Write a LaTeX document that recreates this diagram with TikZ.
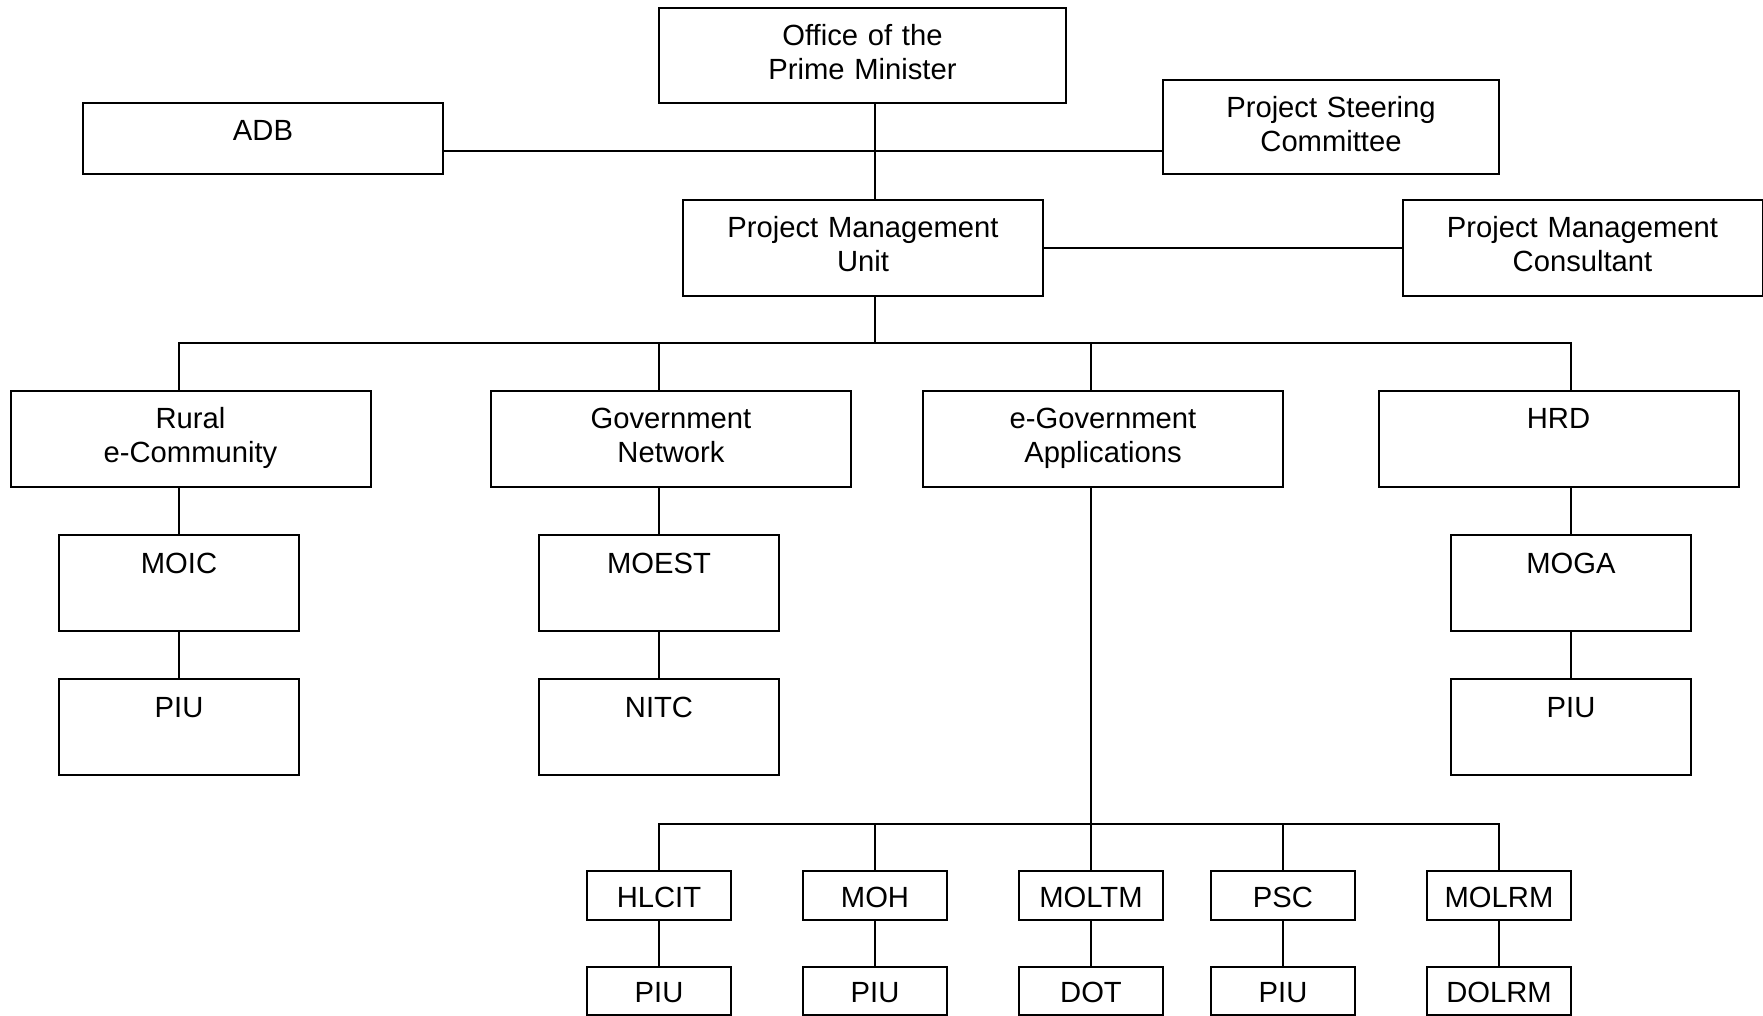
\documentclass[tikz,border=0pt]{standalone}
\usepackage{fontspec}
\setmainfont{Liberation Sans}
\usetikzlibrary{positioning,calc}

\begin{document}
\begin{tikzpicture}[x=0.5pt,y=-0.5pt,font=\fontsize{14.6pt}{16.9pt}\selectfont,
box/.style={draw,line width=1pt,text width=#1,align=center,inner sep=0pt,text height=19pt,text depth=29pt},box/.default=180pt,
unit/.style={box=120pt},small/.style={box=72pt,text height=17.9pt,text depth=6.3pt},link/.style={line width=0.8pt}]
\useasboundingbox (0,0) rectangle (1763,1016);
\node[box=203.5pt,text depth=28.5pt] (office) at (862.5,55.5) {Office of the\\Prime Minister};
\node[box,text depth=16.5pt] (adb) at (263,138.5) {ADB};
\node[box=168pt,text depth=28pt] (steering) at (1331,127) {Project Steering\\Committee};
\node[box] (pmu) at (863,248) {Project Management\\Unit};
\node[box] (pmc) at (1582.5,248) {Project Management\\Consultant};
\node[box] (rural) at (190.5,439) {Rural\\e-Community};
\node[box] (govnet) at (671,439) {Government\\Network};
\node[box] (egov) at (1103,439) {e-Government\\Applications};
\node[box] (hrd) at (1558.5,439) {HRD};
\node[unit] (moic) at (179,583) {MOIC};
\node[unit] (moest) at (659,583) {MOEST};
\node[unit] (moga) at (1571,583) {MOGA};
\node[unit] (ruralpiu) at (179,727) {PIU};
\node[unit] (nitc) at (659,727) {NITC};
\node[unit] (hrdpiu) at (1571,727) {PIU};
\node[small] (hlcit) at (659,895.6) {HLCIT};
\node[small] (moh) at (875,895.6) {MOH};
\node[small] (moltm) at (1091,895.6) {MOLTM};
\node[small] (pscapp) at (1283,895.6) {PSC};
\node[small] (molrm) at (1499,895.6) {MOLRM};
\node[small] (hlcitpiu) at (659,991) {PIU};
\node[small] (mohpiu) at (875,991) {PIU};
\node[small] (dot) at (1091,991) {DOT};
\node[small] (pscpiu) at (1283,991) {PIU};
\node[small] (dolrm) at (1499,991) {DOLRM};
\coordinate (spine) at (875,151);
\coordinate (topbus) at (875,343);
\coordinate (lowbus) at (1091,824);
\draw[link] (office.south -| spine) -- (pmu.north -| spine);
\draw[link] (adb.east |- spine) -- (steering.west |- spine);
\draw[link] (pmu) -- (pmc);
\draw[link] (pmu.south -| spine) -- (topbus);
\draw[link] (rural.north -| moic) -- (moic |- topbus) -- (moga |- topbus) -- (hrd.north -| moga);
\draw[link] (moest |- topbus) -- (govnet.north -| moest);
\draw[link] (moltm |- topbus) -- (egov.north -| moltm);
\draw[link] (rural.south -| moic) -- (moic);
\draw[link] (govnet.south -| moest) -- (moest);
\draw[link] (hrd.south -| moga) -- (moga);
\draw[link] (moic) -- (ruralpiu);
\draw[link] (moest) -- (nitc);
\draw[link] (moga) -- (hrdpiu);
\draw[link] (egov.south -| moltm) -- (moltm);
\draw[link] (hlcit) -- (hlcit |- lowbus) -- (molrm |- lowbus) -- (molrm);
\draw[link] (moh |- lowbus) -- (moh);
\draw[link] (pscapp |- lowbus) -- (pscapp);
\draw[link] (hlcit) -- (hlcitpiu);
\draw[link] (moh) -- (mohpiu);
\draw[link] (moltm) -- (dot);
\draw[link] (pscapp) -- (pscpiu);
\draw[link] (molrm) -- (dolrm);
\end{tikzpicture}
\end{document}
